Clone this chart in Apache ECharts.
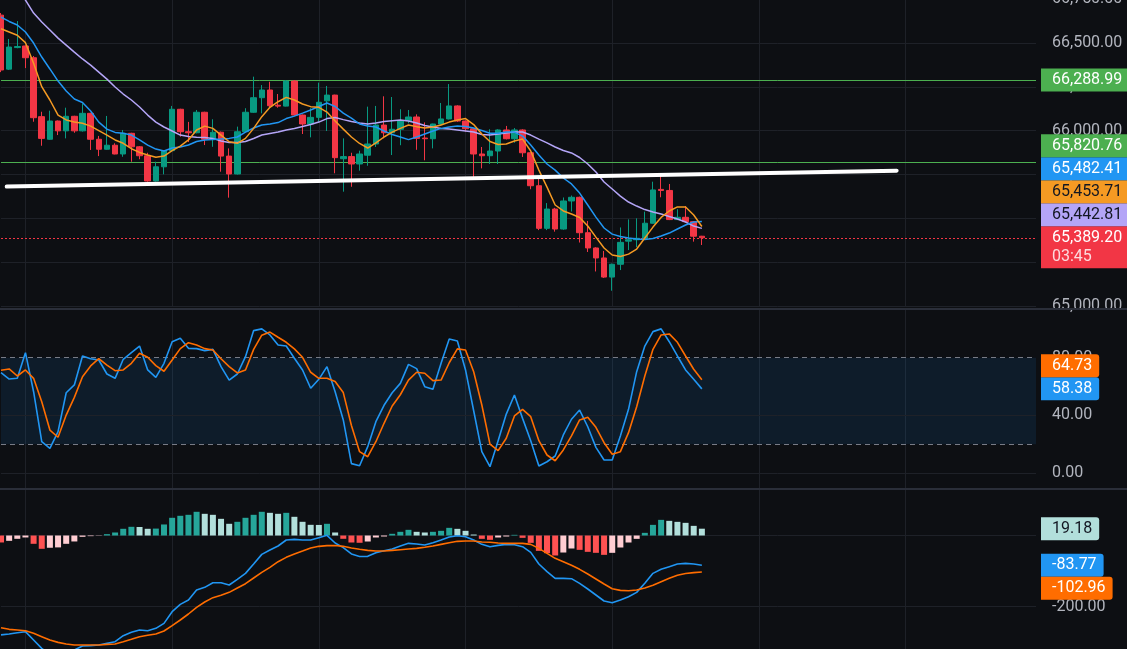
<!DOCTYPE html>
<html><head><meta charset="utf-8">
<script src="https://cdn.jsdelivr.net/npm/echarts@6/dist/echarts.min.js"></script>
<style>html,body{margin:0;padding:0;background:#0d0f13;overflow:hidden}#c{width:1127px;height:649px}</style>
</head><body><div id="c"></div>
<script>
// ---------- data ----------
const slotCount = 128;
const slots = Array.from({length: slotCount}, (_, i) => 'b' + i);

const opens = [66659,66351,66474,66483,66416,66080,65951,66055,65999,66082,
65999,66099,65951,65894,65917,65867,65985,65908,65857,65713,
65794,65886,66122,65994,65988,66105,65951,65991,65855,65753,
65994,66105,66188,66232,66145,66140,66283,66089,66038,66076,
66170,66203,65840,65852,65810,65860,65924,66032,65988,66008,
66057,66078,65958,65954,66038,66067,66141,66055,66011,65867,
65857,65884,66004,65954,66004,65874,65686,65443,65553,65439,
65599,65620,65418,65331,65274,65165,65238,65370,65378,65386,
65472,65665,65659,65493,65506,65481,65398];
const closes = [66346,66477,66480,66416,66074,65956,66055,65999,66082,65999,
66099,65951,65894,65917,65867,65985,65908,65857,65713,65794,
65886,66122,65994,65988,66105,65951,65991,65855,65753,65994,
66105,66188,66232,66142,66140,66283,66089,66038,66076,66162,
66203,65846,65852,65810,65867,65924,66032,65988,66008,66057,
66078,65956,65954,66038,66067,66141,66055,66011,65867,65857,
65884,66004,65954,66004,65874,65686,65443,65553,65439,65599,
65620,65418,65331,65274,65165,65238,65363,65378,65386,65472,
65662,65659,65493,65506,65481,65398,65389.20];
const lows = [66334,66346,66470,66357,66051,65914,65948,65975,65956,65988,
65995,65890,65855,65891,65865,65851,65823,65837,65709,65710,
65751,65880,65966,65935,65985,65918,65908,65766,65618,65750,
65990,66102,66099,66133,66131,66138,66085,65981,65962,66051,
65998,65757,65652,65680,65772,65800,65907,65956,65861,65917,
66042,65891,65831,65899,66030,66064,66050,65994,65733,65785,
65810,65810,65950,65931,65850,65666,65433,65433,65424,65435,
65539,65362,65308,65197,65160,65087,65205,65319,65336,65380,
65470,65620,65490,65490,65478,65367,65348];
const highs = [66671,66523,66625,66486,66426,66108,66114,66058,66131,66085,
66156,66102,65970,66084,65928,66004,65988,65912,65874,65823,
65889,66141,66125,66050,66118,66108,66065,65995,65899,66023,
66128,66308,66260,66279,66209,66289,66289,66092,66128,66274,
66255,66205,65956,65874,65886,66137,66141,66196,66192,66122,
66118,66093,66047,66040,66158,66266,66145,66058,66014,65907,
66008,66008,66027,66015,66008,65877,65741,65587,65560,65619,
65630,65624,65485,65335,65314,65242,65448,65494,65500,65538,
65709,65757,65696,65552,65570,65484,65400];

// moving averages (orange fast, blue mid, purple slow)
const maFast = [66581,66563,66544,66502,66384,66251,66175,66089,66061,66049,
66042,66026,66000,65975,65947,65928,65897,65876,65861,65848,
65855,65886,65912,65947,66004,66026,66013,65975,65937,65928,
65956,66013,66080,66133,66165,66190,66175,66152,66137,66133,
66106,66055,66009,65964,65927,65901,65930,65964,65992,66013,
66032,66023,66015,66021,66032,66049,66061,66069,66035,65981,
65938,65921,65924,65941,65952,65884,65775,65678,65576,65542,
65525,65505,65456,65393,65331,65291,65282,65296,65325,65388,
65450,65505,65542,65565,65565,65519,65453.71];
const maMid = [66648,66623,66603,66563,66500,66420,66352,66283,66226,66181,
66161,66112,66049,66009,65990,65985,65975,65947,65918,65895,
65884,65901,65907,65918,65938,65947,65949,65952,65956,65964,
65992,66015,66032,66038,66046,66069,66083,66100,66118,66138,
66158,66138,66100,66072,66038,66026,66021,65998,65978,65964,
65949,65964,65981,65998,66013,66021,66026,66024,66015,66001,
65985,65985,65992,65992,65969,65918,65861,65810,65775,65730,
65696,65644,65576,65507,65445,65410,65396,65388,65382,65379,
65385,65399,65416,65439,65462,65479,65482.41];
const maSlow = [66899,66848,66796,66745,66671,66620,66574,66528,66488,66448,
66409,66374,66334,66294,66249,66209,66175,66135,66089,66049,
66021,65998,65975,65967,65962,65961,65956,65941,65932,65932,
65938,65955,65975,65984,65992,66004,66012,66024,66035,66049,
66069,66075,66063,66052,66044,66038,66044,66052,66057,66061,
66055,66044,66029,66021,66013,66009,66004,65998,65992,65978,
65975,65981,65986,65992,65992,65975,65952,65930,65907,65887,
65873,65847,65810,65764,65707,65667,65627,65593,65570,65550,
65536,65525,65510,65496,65479,65456,65442.81];

const levelHigh = 66288.99;
const levelLow = 65820.76;
const countdown = '03:45';
// hand-drawn trend line: [slot position, price]
const trendX = [0.7, 109.9];
const trendY = [65681, 65772];

const stochK = [69.6,65.2,65.7,83.5,56.4,21.7,17.1,28.7,55.7,61.1,
81.2,79.3,78.4,68.7,65.7,78.9,83.5,88.1,71.5,66.4,
76.1,91.1,93.5,86.5,86.3,84.9,85.8,73.8,64.5,68.7,
80.7,98.8,100,95.8,88.8,88.1,79.6,71.5,58.8,65,
73.8,56.4,36.8,6.5,5,18.3,35.6,47,55.7,62.2,
75.4,72.4,59.9,58.1,76.1,93,91.6,71.5,43.2,14.8,
4.4,22.4,40.9,54.1,37.9,22.4,4.9,7.8,11.8,26.4,
37.3,43.7,32.1,17.8,9,9,25.7,44.2,70.3,88.1,
98.1,100,91.1,81.2,71.5,65,58.38];
const stochD = [71.3,72.2,67.3,71.5,65.7,49.5,29.8,24.8,40.2,52.5,
66.8,74.3,79.3,74.9,71,71.5,76.1,83.1,80.3,74.5,
70.6,78.4,86.3,90.4,88.8,86.3,85.4,79.3,73.8,69.4,
71.5,85.8,95.6,97.8,94.2,90.7,86.1,80.3,69.9,65.7,
65.7,63.5,55.8,33,14.8,11.3,21.7,34.5,46.5,54.3,
64.5,69.9,69.2,64.1,64.5,76.5,86.1,85.4,70.3,47.2,
20.1,15.5,24.1,39.6,44.2,39.1,22.4,12.5,8.5,16,
25.7,36.8,38.7,31.7,21,13,14.8,28,46,67.3,
85.8,95.8,96.5,90.7,81.2,72,64.73];

const macdHist = [-19.6,-15,-9.3,-5.5,-23.4,-37.5,-34.5,-33.5,-23.4,-16.8,
-3.7,-1.8,-0.8,3.8,8.5,18.9,24.5,24,18.9,19.5,
31.1,49.9,55.5,58.3,66.8,61.1,58.3,47,33,38.6,
49.9,58.3,66.8,63.9,61.1,63.9,52.7,38.6,30.1,29.8,
33,8.5,-9.3,-19.7,-20.5,-16.9,-5.6,-2.8,4.8,10.4,
16,10.4,8.5,10.4,13.2,21.6,18.8,13.2,2.8,-9.4,
-12.2,-5.6,-2.8,1.9,-6.6,-20.7,-43.2,-49.8,-56.3,-47.9,
-36.6,-40.4,-46,-48.8,-54.5,-48.8,-33.8,-19.7,-9.4,7.5,
30,44.1,41.3,38.5,35.7,27.2,19.18];
const macdLine = [-280,-277.5,-273.7,-270.9,-294.4,-317.8,-336,-345,-340,-322.5,
-311.3,-310.3,-308.5,-303.8,-299.1,-282.2,-272.8,-266.2,-268.1,-261.5,
-247.4,-214.6,-193.9,-181.7,-153.5,-146,-132.9,-132.9,-139.4,-123.5,
-106.6,-80.3,-53.1,-40.8,-29.6,-12.7,-10.8,-12.7,-12.7,-6.1,
0.5,-21,-34,-52,-59,-58.7,-48.4,-42.7,-38,-29.6,
-22.1,-23.9,-26.8,-20.2,-12.7,-4.2,-0.5,-3.3,-12.7,-24.9,
-31.5,-27.7,-24.9,-25.8,-31.5,-47.4,-80.3,-101.9,-120.7,-120.7,
-121.6,-134.7,-150.7,-167.6,-184.5,-189.2,-181.7,-172.3,-160.1,-134.7,
-106.6,-95.3,-87.8,-80.3,-78.4,-80.3,-83.77];
const signalLine = [-259.6,-264.3,-266.2,-268.1,-275.6,-285,-294.4,-301,-305.6,-308.5,
-308.5,-308.5,-308.5,-306.6,-305.6,-299.1,-292.5,-285,-281.2,-277.5,
-269,-254,-238,-221.1,-202.3,-187.3,-175.1,-168.5,-160.1,-147.9,
-135.7,-119.7,-103.8,-89.7,-73.7,-61.5,-52.1,-43.7,-35.2,-30.5,
-28.6,-28.2,-30.5,-35,-38.5,-41.8,-43.7,-43.7,-41.8,-39.9,
-38,-36.2,-33.3,-29.6,-24.9,-20.2,-16.4,-15.5,-15.5,-18.3,
-19.2,-21.1,-22.1,-22.1,-22.1,-24.9,-36.2,-50.2,-64.3,-73.7,
-84,-95.3,-108.5,-122.5,-136.6,-149.8,-154.5,-155.4,-153.5,-147.9,
-140.4,-130,-120.7,-112,-107,-104.5,-102.96];

// ---------- style ----------
const BG = '#0d0f13', GRID = '#1e2128', AXIS_TXT = '#b2b5be';
const UP = '#089981', DOWN = '#f23645';
const BLUE = '#2196f3', ORANGE_MA = '#f59a23', PURPLE = '#b4a5f7', GREEN = '#4caf50', ORANGE = '#ff6d00';
const FONT = 'Roboto';
const fmtPrice = v => v.toLocaleString('en-US', {minimumFractionDigits: 2, maximumFractionDigits: 2});

const candleData = opens.map((o, i) => [o, closes[i], lows[i], highs[i]]);
const histColors = macdHist.map((v, i) => {
  const p = i ? macdHist[i - 1] : null;
  if (v >= 0) return (p === null || v > p) ? '#26a69a' : '#b2dfdb';
  return (p === null || v < p) ? '#ff5252' : '#ffcdd2';
});

const L = 1, W = 1035;
const grids = [
  {left: L, width: W, top: -3, height: 309, outerBoundsMode: 'none'},
  {left: L, width: W, top: 310, height: 178, outerBoundsMode: 'none'},
  {left: L, width: W, top: 490, height: 159, outerBoundsMode: 'none'}
];
const vSplit = {show: true, interval: (idx) => idx % 18 === 3, lineStyle: {color: GRID, width: 1}};
const catAxis = g => ({type: 'category', gridIndex: g, data: slots, boundaryGap: false,
  axisLine: {show: false}, axisTick: {show: false}, axisLabel: {show: false}, splitLine: vSplit, axisPointer: {show: false}});
const lblStyle = {color: AXIS_TXT, fontSize: 16, fontFamily: FONT, margin: 16};

const gridLine = (v, extra) => Object.assign({yAxis: v, lineStyle: {color: GRID, width: 1, type: 'solid'}}, extra || {});
const noSym = ['none', 'none'];

const option = {
  backgroundColor: BG,
  animation: false,
  grid: grids,
  xAxis: [catAxis(0), catAxis(1), catAxis(2),
    {type: 'value', gridIndex: 0, min: 0, max: slotCount - 1, show: false}],
  yAxis: [
    {type: 'value', gridIndex: 0, position: 'right', min: 65000, max: 66762.4, interval: 250,
      axisLine: {show: false}, axisTick: {show: false},
      splitLine: {show: true, lineStyle: {color: GRID}},
      axisLabel: Object.assign({}, lblStyle, {formatter: v => (Math.abs(v % 250) < 1e-6 ? fmtPrice(v) : '')})},
    {type: 'value', gridIndex: 1, position: 'right', min: -10.4, max: 113.1, splitNumber: 6,
      axisLine: {show: false}, axisTick: {show: false}, splitLine: {show: false},
      axisLabel: Object.assign({}, lblStyle, {formatter: v => (Math.abs(v % 40) < 1e-6 && v >= 0 && v <= 80 ? v.toFixed(2) : '')})},
    {type: 'value', gridIndex: 2, position: 'right', min: -319.7, max: 128.2, splitNumber: 4,
      axisLine: {show: false}, axisTick: {show: false}, splitLine: {show: false},
      axisLabel: Object.assign({}, lblStyle, {formatter: v => (Math.abs(v % 200) < 1e-6 ? (v === 0 ? 0 : v).toFixed(2) : '')})}
  ],
  series: [
    {type: 'candlestick', xAxisIndex: 0, yAxisIndex: 0, data: candleData, barWidth: 6, z: 2,
      itemStyle: {color: UP, color0: DOWN, borderColor: UP, borderColor0: DOWN, borderWidth: 1},
      markLine: {silent: true, symbol: noSym, z: 1, label: {show: false}, animation: false,
        data: [
          {yAxis: levelHigh, lineStyle: {color: GREEN, width: 1, type: 'solid'}},
          {yAxis: levelLow, lineStyle: {color: GREEN, width: 1, type: 'solid'}},
          {yAxis: closes[closes.length - 1], lineStyle: {color: DOWN, width: 1, opacity: 1, type: [2, 2]}}
        ]}},
    {type: 'line', xAxisIndex: 0, yAxisIndex: 0, data: maSlow, showSymbol: false, z: 3, lineStyle: {color: PURPLE, width: 1.5}},
    {type: 'line', xAxisIndex: 0, yAxisIndex: 0, data: maMid, showSymbol: false, z: 3, lineStyle: {color: BLUE, width: 1.5}},
    {type: 'line', xAxisIndex: 0, yAxisIndex: 0, data: maFast, showSymbol: false, z: 3, lineStyle: {color: ORANGE_MA, width: 1.5}},
    {type: 'line', xAxisIndex: 3, yAxisIndex: 0, data: trendX.map((x, i) => [x, trendY[i]]), showSymbol: false, z: 4,
      lineStyle: {color: '#ffffff', width: 4, cap: 'round'}},
    {type: 'line', xAxisIndex: 1, yAxisIndex: 1, data: stochK, showSymbol: false, z: 3, lineStyle: {color: BLUE, width: 1.6},
      markArea: {silent: true, itemStyle: {color: 'rgba(33,150,243,0.1)'}, data: [[{yAxis: 20}, {yAxis: 80}]]},
      markLine: {silent: true, symbol: noSym, z: 1, label: {show: false}, animation: false,
        data: [gridLine(0), gridLine(40),
          {yAxis: 20, lineStyle: {color: '#787b86', width: 1, type: [5, 4]}},
          {yAxis: 80, lineStyle: {color: '#787b86', width: 1, type: [5, 4]}}]}},
    {type: 'line', xAxisIndex: 1, yAxisIndex: 1, data: stochD, showSymbol: false, z: 3, lineStyle: {color: ORANGE, width: 1.6}},
    {type: 'bar', xAxisIndex: 2, yAxisIndex: 2, barWidth: 6, z: 2,
      data: macdHist.map((v, i) => ({value: v, itemStyle: {color: histColors[i]}})),
      markLine: {silent: true, symbol: noSym, z: 1, label: {show: false}, animation: false,
        data: [gridLine(0), gridLine(-200)]}},
    {type: 'line', xAxisIndex: 2, yAxisIndex: 2, data: macdLine, showSymbol: false, z: 3, lineStyle: {color: BLUE, width: 1.6}},
    {type: 'line', xAxisIndex: 2, yAxisIndex: 2, data: signalLine, showSymbol: false, z: 3, lineStyle: {color: ORANGE, width: 1.6}}
  ]
};

const chart = echarts.init(document.getElementById('c'), null, {width: 1127, height: 649});
chart.setOption(option);

// ---------- right-side value tags ----------
const HALF = 11.5, LH = 19;
const last = a => a[a.length - 1];
function stack(items, dir) {
  items.sort((a, b) => dir < 0 ? b.py - a.py : a.py - b.py);
  let edge = null;
  items.forEach(it => {
    let c = it.py;
    if (edge !== null) c = dir < 0 ? Math.min(c, edge - HALF) : Math.max(c, edge + HALF);
    it.cy = c;
    edge = dir < 0 ? c - HALF : c + HALF + (it.sub ? LH : 0);
  });
  return items;
}
const px = (v, ax) => chart.convertToPixel({yAxisIndex: ax}, v);
const priceTags = stack([
  {py: px(last(closes), 0), text: fmtPrice(last(closes)), bg: DOWN, fg: '#ffffff', sub: countdown},
  {py: px(last(maSlow), 0), text: fmtPrice(last(maSlow)), bg: PURPLE, fg: '#131722'},
  {py: px(last(maFast), 0), text: fmtPrice(last(maFast)), bg: ORANGE_MA, fg: '#131722'},
  {py: px(last(maMid), 0), text: fmtPrice(last(maMid)), bg: BLUE, fg: '#ffffff'},
  {py: px(levelLow, 0), text: fmtPrice(levelLow), bg: GREEN, fg: '#ffffff'},
  {py: px(levelHigh, 0), text: fmtPrice(levelHigh), bg: GREEN, fg: '#ffffff'}
], -1);
const stochTags = stack([
  {py: px(last(stochK), 1), text: last(stochK).toFixed(2), bg: BLUE, fg: '#ffffff'},
  {py: px(last(stochD), 1), text: last(stochD).toFixed(2), bg: ORANGE, fg: '#ffffff'}
], -1);
const macdTags = stack([
  {py: px(last(macdHist), 2), text: last(macdHist).toFixed(2), bg: last(histColors), fg: '#131722'},
  {py: px(last(macdLine), 2), text: last(macdLine).toFixed(2), bg: BLUE, fg: '#ffffff'},
  {py: px(last(signalLine), 2), text: last(signalLine).toFixed(2), bg: ORANGE, fg: '#ffffff'}
], 1);

const font = '16px ' + FONT;
function tag(it) {
  const style = {font: font, backgroundColor: it.bg, padding: [2, 7, 2, 11], borderRadius: [0, 3, 3, 0], lineHeight: LH};
  if (it.sub) {
    style.text = '{a|' + it.text + '}\n{b|' + it.sub + '}';
    style.rich = {a: {fill: it.fg, font: font, lineHeight: LH}, b: {fill: 'rgba(255,255,255,0.82)', font: font, lineHeight: LH}};
    style.verticalAlign = 'top';
    return {type: 'text', z: 100, x: 1041, y: it.cy - HALF, style: style, silent: true};
  }
  style.text = it.text; style.fill = it.fg; style.verticalAlign = 'middle';
  return {type: 'text', z: 100, x: 1041, y: it.cy, style: style, silent: true};
}
const graphics = [
  {type: 'rect', z: 50, silent: true, shape: {x: 0, y: 308, width: 1127, height: 2}, style: {fill: '#2a2e39'}},
  {type: 'rect', z: 50, silent: true, shape: {x: 0, y: 488, width: 1127, height: 2}, style: {fill: '#2a2e39'}}
].concat(priceTags.map(tag), stochTags.map(tag), macdTags.map(tag));
chart.setOption({graphic: graphics});
</script></body></html>
